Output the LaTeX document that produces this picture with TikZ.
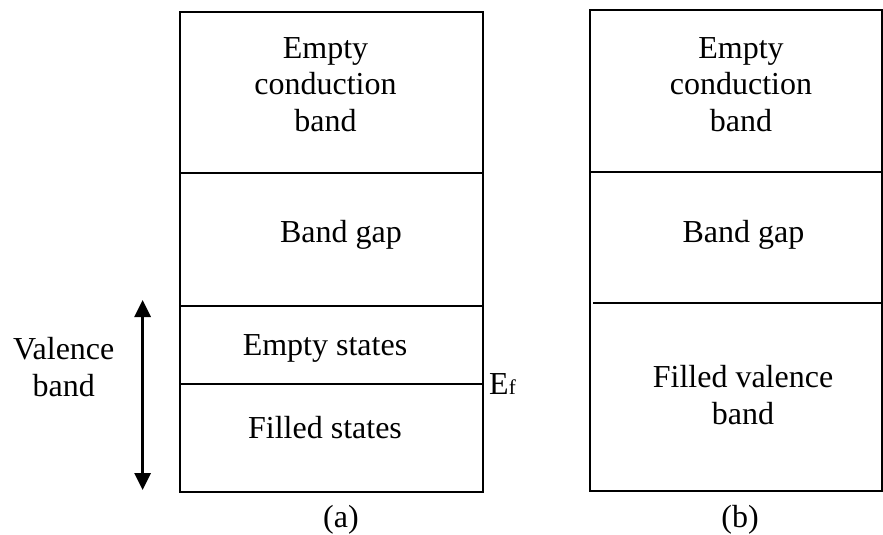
\documentclass[tikz,border=0pt]{standalone}
\usepackage{fontspec}
\setmainfont{Liberation Serif}
\usetikzlibrary{arrows.meta}
\begin{document}
\begin{tikzpicture}[x=1pt, y=-1pt,
  lbl/.style={font=\fontsize{32}{36.5}\selectfont, align=center, inner sep=0pt, anchor=base},
  bandline/.style={line width=2pt},
  dblarrow/.style={line width=2.8pt, {Triangle[length=17pt,width=16pt]}-{Triangle[length=17pt,width=16pt]}}]
\useasboundingbox (0,0) rectangle (883,535);

% ---- (a) partly filled valence band ----
\coordinate (a-nw) at (180,11.8);
\coordinate (a-se) at (483,492);
\draw[bandline] (a-nw) rectangle (a-se);
\draw[bandline] (180,173) -- (483,173);
\draw[bandline] (180,306) -- (483,306);
\draw[bandline] (180,384) -- (483,384);

% multi-line labels are anchored at the baseline of their last line
\node[lbl] (a-cond) at (325.5,131.4) {Empty\\conduction\\band};
\node[lbl] (a-gap) at (341,242) {Band gap};
\node[lbl] (a-empty) at (325,355) {Empty states};
\node[lbl] (a-filled) at (325,438) {Filled states};
\node[lbl] (a-val) at (63.7,396) {Valence\\band};
\node[lbl, anchor=base west] (a-ef) at (489,394) {E\fontsize{21}{21}\selectfont f};
\node[lbl] (a-cap) at (341,527) {(a)};

\coordinate (arr-top) at (142.6,300);
\coordinate (arr-bot) at (142.6,490);
\draw[dblarrow] (arr-top) -- (arr-bot);

% ---- (b) completely filled valence band ----
\coordinate (b-nw) at (590,10.3);
\coordinate (b-se) at (882,491);
\draw[bandline] (b-nw) rectangle (b-se);
\draw[bandline] (590,171.5) -- (882,171.5);
\draw[bandline] (593,302.5) -- (882,302.5);

\node[lbl] (b-cond) at (741,131) {Empty\\conduction\\band};
\node[lbl] (b-gap) at (743.5,242) {Band gap};
\node[lbl] (b-val) at (743,424) {Filled valence\\band};
\node[lbl] (b-cap) at (740,527) {(b)};
\end{tikzpicture}
\end{document}
